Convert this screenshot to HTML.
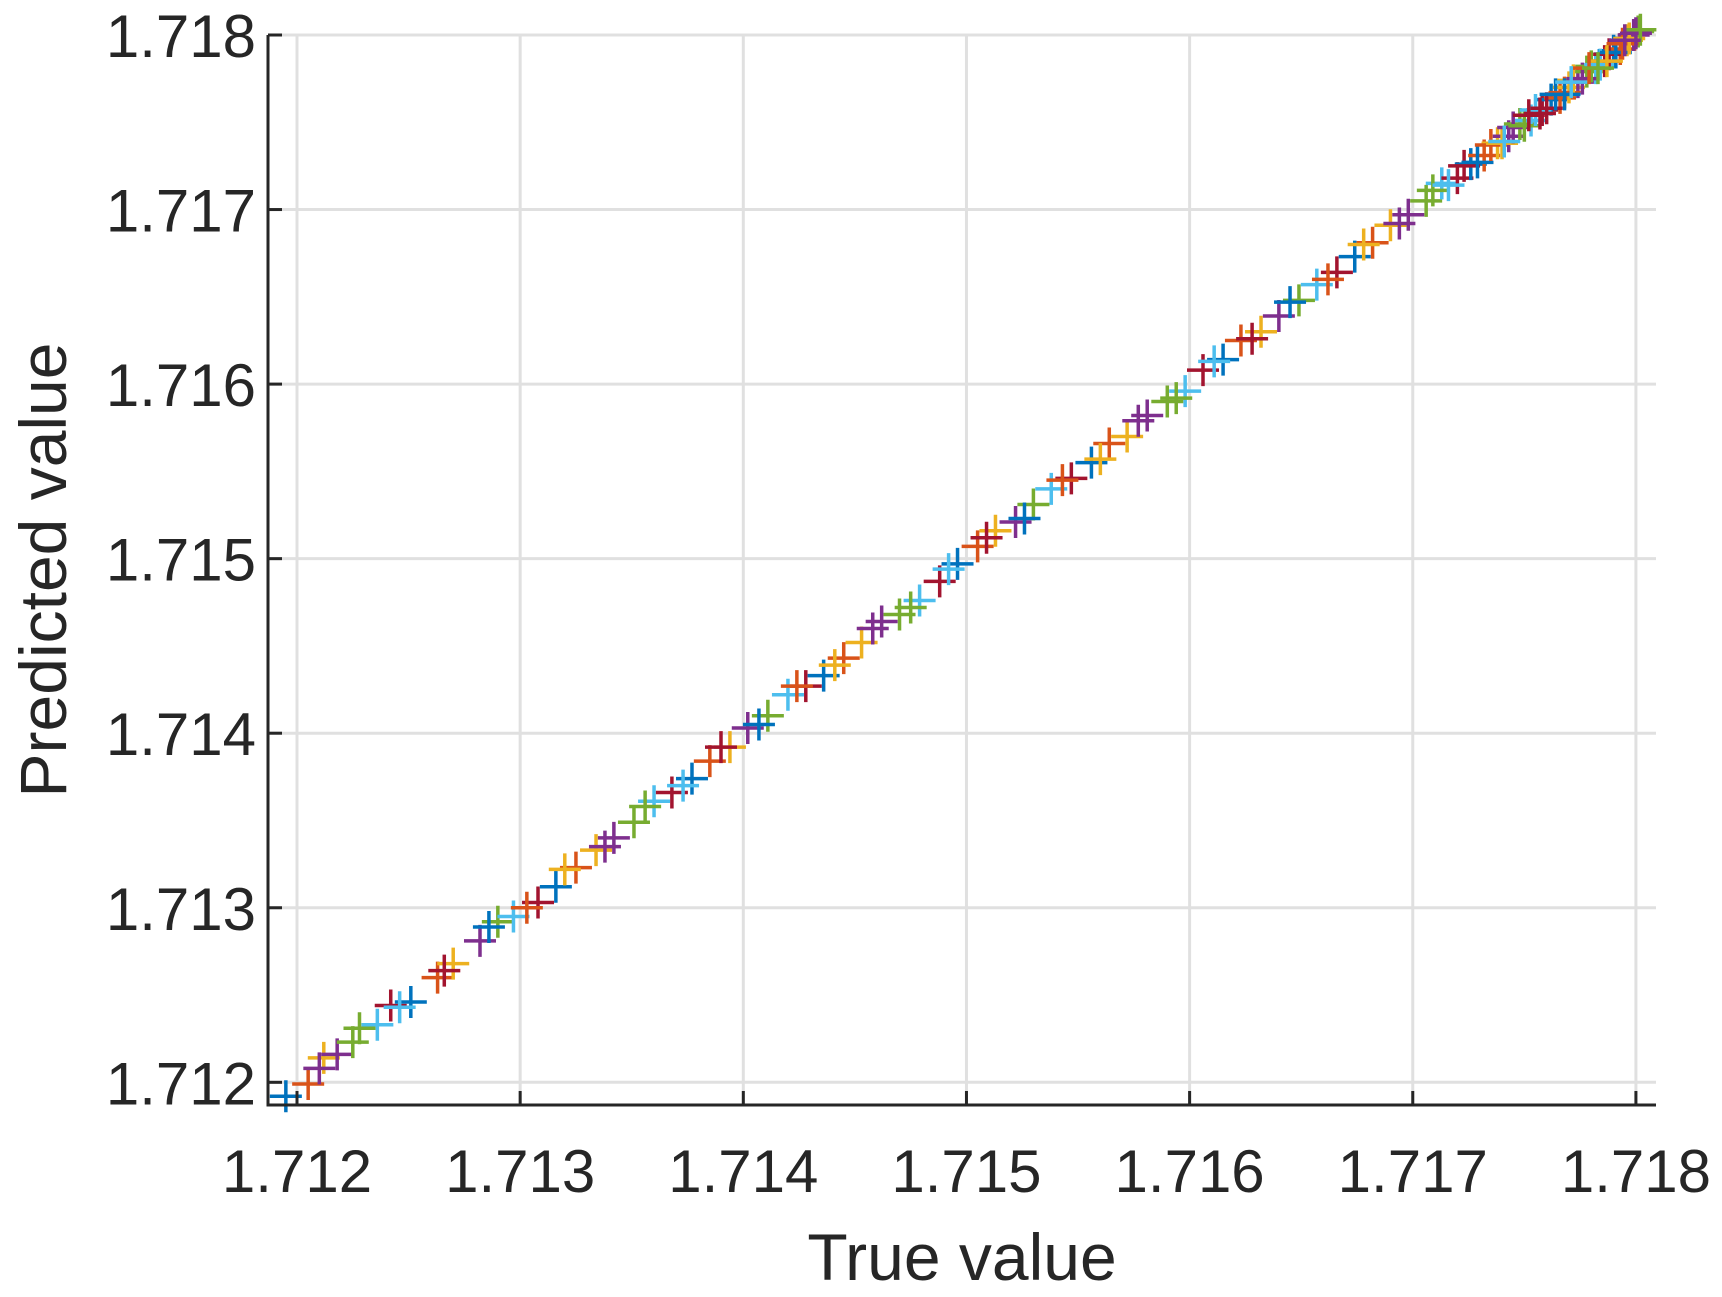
<!DOCTYPE html>
<html><head><meta charset="utf-8"><style>
html,body{margin:0;padding:0;background:#fff;}
svg{display:block;font-family:"Liberation Sans",Arial,sans-serif;}
</style></head><body>
<svg id="chart" width="1722" height="1297" viewBox="0 0 1722 1297">
<rect width="1722" height="1297" fill="#fff"/>
<g id="grid"></g>
<g id="marks"></g>
<g id="axes"></g>
<text x="962" y="1280" font-size="66" text-anchor="middle" fill="#262626">True value</text>
<text transform="translate(66,570) rotate(-90)" font-size="66" text-anchor="middle" fill="#262626">Predicted value</text>
</svg>
<script>
const xTicks = [1.712,1.713,1.714,1.715,1.716,1.717,1.718];
const yTicks = [1.712,1.713,1.714,1.715,1.716,1.717,1.718];
const trueVals = [1.71195,1.71205,1.71212,1.71218,1.71225,1.71236,1.71242,1.71251,1.71263,1.71270,1.71282,1.71290,1.71297,1.71308,1.71316,1.71325,1.71334,1.71342,1.71351,1.71360,1.71368,1.71377,1.71385,1.71394,1.71402,1.71411,1.71420,1.71428,1.71436,1.71445,1.71453,1.71462,1.71470,1.71479,1.71488,1.71496,1.71505,1.71513,1.71522,1.71530,1.71538,1.71547,1.71556,1.71564,1.71572,1.71581,1.71590,1.71598,1.71606,1.71615,1.71623,1.71632,1.71640,1.71649,1.71657,1.71666,1.71674,1.71682,1.71690,1.71698,1.71706,1.71713,1.71720,1.71726,1.71732,1.71738,1.71743,1.71748,1.71753,1.71758,1.71762,1.71766,1.71770,1.71774,1.71778,1.71782,1.71786,1.71790,1.71793,1.71796,1.71799,1.71801];
const predVals = [1.71192,1.71199,1.71214,1.71216,1.71223,1.71233,1.71244,1.71246,1.71260,1.71268,1.71281,1.71292,1.71295,1.71303,1.71312,1.71323,1.71333,1.71340,1.71349,1.71361,1.71366,1.71374,1.71384,1.71392,1.71403,1.71410,1.71422,1.71427,1.71433,1.71443,1.71452,1.71464,1.71468,1.71476,1.71487,1.71497,1.71507,1.71516,1.71521,1.71531,1.71540,1.71546,1.71555,1.71566,1.71570,1.71582,1.71590,1.71596,1.71608,1.71614,1.71625,1.71630,1.71639,1.71648,1.71657,1.71664,1.71673,1.71681,1.71691,1.71697,1.71705,1.71715,1.71718,1.71726,1.71731,1.71738,1.71742,1.71749,1.71751,1.71757,1.71763,1.71764,1.71770,1.71773,1.71779,1.71781,1.71785,1.71791,1.71792,1.71797,1.71800,1.71802];
const trueVals2 = [1.71210,1.71228,1.71246,1.71266,1.71286,1.71303,1.71320,1.71338,1.71356,1.71373,1.71390,1.71407,1.71424,1.71441,1.71458,1.71475,1.71492,1.71509,1.71526,1.71543,1.71560,1.71577,1.71594,1.71611,1.71628,1.71645,1.71662,1.71678,1.71694,1.71709,1.71716,1.71723,1.71729,1.71735,1.71740,1.71745,1.71750,1.71755,1.71760,1.71764,1.71768,1.71772,1.71776,1.71780,1.71784,1.71788,1.71791,1.71794,1.71797,1.71800,1.71802,1.71741,1.71752,1.71768,1.71779,1.71787,1.71795,1.71783,1.71771,1.71757];
const predVals2 = [1.71208,1.71231,1.71243,1.71264,1.71289,1.71300,1.71322,1.71335,1.71358,1.71370,1.71392,1.71405,1.71427,1.71439,1.71460,1.71472,1.71494,1.71512,1.71523,1.71545,1.71557,1.71579,1.71592,1.71613,1.71626,1.71647,1.71660,1.71680,1.71692,1.71711,1.71714,1.71725,1.71727,1.71737,1.71738,1.71747,1.71748,1.71757,1.71758,1.71766,1.71767,1.71774,1.71775,1.71782,1.71783,1.71789,1.71790,1.71795,1.71798,1.71801,1.71803,1.71739,1.71754,1.71766,1.71781,1.71785,1.71797,1.71781,1.71773,1.71755];
const colors = ['#0072BD','#D95319','#EDB120','#7E2F8E','#77AC30','#4DBEEE','#A2142F'];

const L=268,R=1656,T=35,B=1105;
const xMin=1.71187,xMax=1.71809,yMin=1.71187,yMax=1.718;
const xs=v=>L+(v-xMin)/(xMax-xMin)*(R-L);
const ys=v=>B-(v-yMin)/(yMax-yMin)*(B-T);
const NS='http://www.w3.org/2000/svg';
function mk(tag,attrs,parent){const e=document.createElementNS(NS,tag);for(const k in attrs)e.setAttribute(k,attrs[k]);parent.appendChild(e);return e;}
const grid=document.getElementById('grid'),marks=document.getElementById('marks'),axes=document.getElementById('axes');
xTicks.forEach(v=>{
  const g=mk('line',{x1:xs(v),x2:xs(v),y1:T,y2:B,stroke:'#e0e0e0','stroke-width':3},grid);
  
  
  const t=mk('line',{x1:xs(v),x2:xs(v),y1:B,y2:B-14,stroke:'#262626','stroke-width':3},axes);
  
  
  const lb=mk('text',{x:xs(v),y:1192,'font-size':60,'text-anchor':'middle',fill:'#262626'},axes);
  lb.textContent=v.toFixed(3);
  
  
});
yTicks.forEach(v=>{
  const g=mk('line',{x1:L,x2:R,y1:ys(v),y2:ys(v),stroke:'#e0e0e0','stroke-width':3},grid);
  
  
  const t=mk('line',{x1:L,x2:L+14,y1:ys(v),y2:ys(v),stroke:'#262626','stroke-width':3},axes);
  
  
  const lb=mk('text',{x:256,y:ys(v)+22,'font-size':60,'text-anchor':'end',fill:'#262626'},axes);
  lb.textContent=v.toFixed(3);
  
  
});
const ax=mk('path',{d:`M${L},${T} L${L},${B} L${R},${B}`,fill:'none',stroke:'#262626','stroke-width':3},axes);


function drawSet(tvs,pvs,off){
  tvs.forEach((tv,i)=>{
    const x=xs(tv),y=ys(pvs[i]),h=16,c=colors[(i+off)%colors.length];
    const p=mk('path',{d:`M${x-h},${y} L${x+h},${y} M${x},${y-h} L${x},${y+h}`,stroke:c,'stroke-width':3.5,fill:'none'},marks);
    
    
  });
}
drawSet(trueVals,predVals,0);
drawSet(trueVals2,predVals2,3);
</script>
</body></html>
